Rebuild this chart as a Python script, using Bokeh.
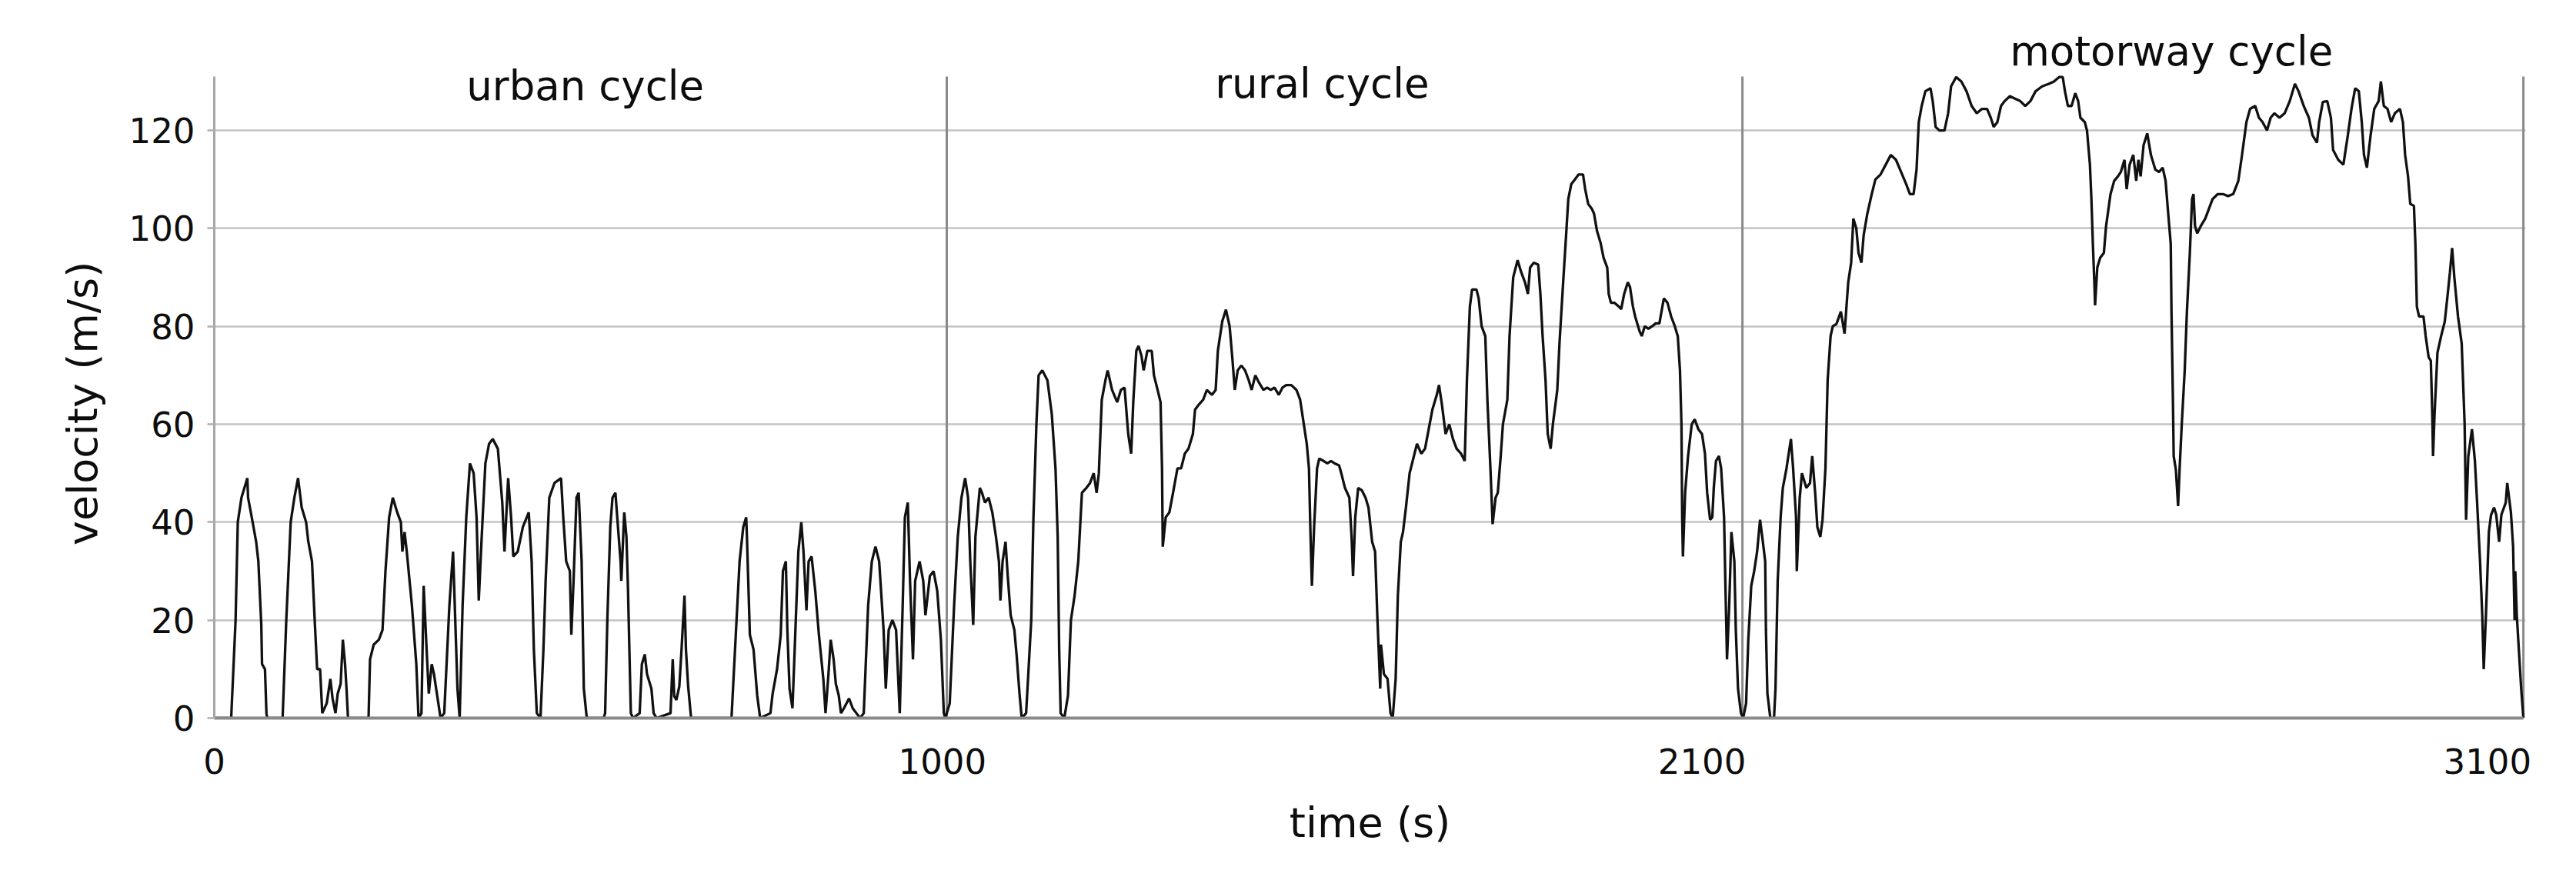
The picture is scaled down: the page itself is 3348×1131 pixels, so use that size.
from bokeh.plotting import figure
from bokeh.models import Range1d, FixedTicker, Label
from bokeh.embed import file_html
from bokeh.resources import INLINE

# ---------------- data (time in s, velocity as labelled) ----------------
urban_t = [0, 23, 29, 32, 37, 45, 46, 51, 57, 60, 64, 65, 69, 71, 72,
           93, 98, 104, 109, 114, 119, 125, 128, 133, 137, 140, 144, 147, 153, 158, 161, 165, 168, 172, 175, 178, 180, 182,
           210, 212, 217, 224, 229, 233, 238, 243, 249, 254, 256, 259, 262, 269, 275, 278, 282, 285, 289, 292, 296, 299, 303, 308, 313, 320, 325, 328, 331, 334,
           338, 343, 348, 353, 357, 360, 364, 369, 374, 379, 386, 392, 395, 400, 404, 407, 413, 420, 428, 432, 435, 439, 444, 448, 451, 456, 463, 472, 475, 479, 484, 486, 489, 493, 496, 500, 503, 507,
           530, 532, 535, 539, 542, 546, 549, 553, 554, 558, 561, 563, 567, 570,
           579, 582, 586, 589, 595, 598, 602,
           621, 624, 626, 629, 633, 636, 640, 642, 645, 649,
           704, 710, 715, 720, 724, 725, 729, 734, 739, 743,
           757, 760, 766, 771, 774, 778, 780, 783, 787, 790, 795, 799, 802, 806, 809, 813, 818, 823, 829, 832, 836, 839, 843, 846, 850, 853, 857, 864, 869, 874, 879,
           884, 890, 895, 900, 905, 911, 914, 918, 923, 928, 933, 937, 940, 944, 947, 951, 954, 960, 965, 968, 974, 979, 984, 989, 993, 995]
urban_v = [0, 0, 20, 40, 45, 49, 45, 41, 36, 32, 19, 11, 10, 1, 0,
           0, 20, 40, 45, 49, 43, 40, 36, 32, 19, 10, 10, 1, 3, 8, 4, 1, 5, 7, 16, 11, 6, 0,
           0, 12, 15, 16, 18, 30, 41, 45, 42, 40, 34, 38, 34, 23, 11, 0, 1, 27, 14, 5, 11, 9, 5, 0, 1, 23, 34, 20, 6, 0,
           23, 41, 52, 50, 41, 24, 37, 52, 56, 57, 55, 44, 34, 49, 41, 33, 34, 39, 42, 32, 14, 1, 0, 14, 28, 45, 48, 49, 41, 32, 30, 17, 28, 45, 46, 32, 6, 0,
           0, 1, 20, 39, 45, 46, 40, 32, 28, 42, 37, 27, 1, 0,
           1, 11, 13, 9, 6, 1, 0,
           1, 12, 4.5, 3.7, 6.5, 14, 25, 14, 6.5, 0,
           0, 17.5, 32, 39, 41, 37, 17, 14, 4.6, 0,
           1, 5, 10, 17, 30, 32, 18, 6, 2, 14, 34, 40, 34, 22, 32, 33, 26, 17, 8, 1, 9, 16, 12, 7, 4.6, 1, 2, 4, 2, 1, 0,
           1, 23, 32, 35, 32, 18, 6, 18, 20, 18, 1, 23, 41, 44, 28, 12, 28, 32, 28, 21, 29, 30, 26, 16, 1, 0]

rural_t = [1001, 1007, 1012, 1017, 1022, 1026, 1029, 1033, 1036, 1042, 1045, 1049, 1054, 1059, 1064, 1068, 1070, 1073, 1077, 1080, 1084, 1089, 1092, 1096, 1099,
           1105, 1108, 1112, 1115, 1119, 1122, 1127, 1134, 1140, 1145, 1148, 1150, 1152, 1157, 1162, 1166, 1171, 1176, 1181, 1187, 1192, 1197, 1201, 1204,
           1208, 1213, 1216, 1222, 1229, 1234, 1239, 1244, 1248, 1251, 1255, 1258, 1262, 1265, 1270, 1276, 1279, 1284, 1288, 1290, 1291, 1295, 1300, 1305,
           1311, 1316, 1321, 1326, 1332, 1335, 1340, 1346, 1351, 1358, 1363, 1366, 1372, 1377, 1382, 1386, 1389, 1393, 1398, 1403, 1408, 1412, 1417, 1422,
           1428, 1433, 1438, 1443, 1449, 1454, 1459, 1466, 1473, 1478, 1483, 1487, 1490, 1492, 1494, 1497, 1501, 1504, 1510, 1515, 1520, 1525, 1531, 1534,
           1539, 1545, 1548, 1550, 1553, 1557, 1562, 1567, 1571, 1576, 1580, 1583, 1587, 1588, 1592, 1597, 1601, 1604, 1608, 1611, 1615, 1618, 1622, 1627,
           1632, 1637, 1643, 1648, 1653, 1658, 1664, 1667, 1671, 1676, 1681, 1686, 1691, 1697, 1702, 1705, 1709, 1712, 1718, 1721, 1725, 1730, 1733, 1737,
           1740, 1744, 1747, 1751, 1754, 1760, 1763, 1768, 1774, 1779, 1784, 1788, 1791, 1796, 1802, 1805, 1808, 1812, 1815, 1819, 1822, 1828, 1831, 1836,
           1840, 1843, 1847, 1852, 1857, 1863, 1866, 1870, 1875, 1878, 1882, 1887, 1891, 1896, 1898, 1901, 1906, 1912, 1915, 1919, 1924, 1927, 1931, 1934,
           1940, 1943, 1947, 1952, 1957, 1962, 1967, 1973, 1978, 1983, 1988, 1992, 1995, 1997, 1998, 1999, 2002, 2006, 2011, 2015, 2020, 2025, 2029, 2032,
           2036, 2039, 2041, 2044, 2048, 2051, 2055, 2057, 2059, 2062, 2065, 2069, 2071, 2074, 2078, 2081]
rural_v = [3, 23, 37, 45, 49, 45, 32, 19, 37, 47, 46, 44, 45, 42, 37, 32, 24, 32, 36, 29, 21, 18, 13, 5, 0,
           1, 9, 20, 41, 60, 70, 71, 69, 62, 51, 37, 14, 1, 0, 4.6, 20, 25, 32, 46, 47, 48, 50, 46, 50,
           65, 69, 71, 67, 64.5, 67, 67.5, 58, 54, 65, 75, 76, 74, 71, 75, 75, 70, 67, 64.5, 51, 35, 41, 42, 46,
           51, 51, 54, 55, 58, 63, 64, 65, 67, 66, 67, 75, 81, 83.4, 80, 73, 67, 71, 72, 71, 69, 67, 70, 68.5,
           67, 67.5, 67, 67.5, 66, 67.5, 68, 68, 67, 65, 60, 56, 51, 38, 27, 39, 51, 53, 52.5, 52, 52.5, 52, 51.6, 50,
           47, 45, 37, 29, 41, 47, 46.5, 45, 43, 36, 34, 21, 6, 15, 9, 8, 1, 0, 8, 25, 36, 38, 43, 50,
           53, 56, 54, 55, 59, 63, 66, 68, 64, 58, 60, 57, 55, 54, 52.5, 69, 84, 87.5, 87.5, 85.7, 80, 78, 64.5, 51,
           39.6, 45, 46, 53.5, 60, 65, 78, 90, 93.5, 91, 89, 86.6, 92, 93, 92.6, 86.6, 78, 69, 58, 55, 60, 67, 76.5, 89,
           98.6, 106, 109, 110, 111, 111, 108, 105, 104, 103, 99.5, 97, 94, 92, 86.6, 84.8, 84.8, 84, 83.5, 86.6, 89, 88, 84, 82,
           79, 78, 80, 79.5, 80, 80.6, 80.6, 85.7, 84.8, 82, 80, 78, 71, 60, 41, 33, 46, 53.5, 60, 61, 59, 58, 54, 46,
           40.5, 41, 47, 52.5, 53.5, 51, 41, 26, 12, 23, 38, 32, 18, 6, 1, 0]

motorway_t = [2085, 2088, 2092, 2096, 2100, 2104, 2107, 2111, 2112, 2114, 2118, 2123, 2125, 2128, 2132, 2135, 2140, 2146, 2149, 2153, 2154, 2158,
              2161, 2167, 2172, 2175, 2179, 2182, 2186, 2189, 2193, 2196, 2200, 2203, 2208, 2214, 2219, 2224, 2228, 2231, 2235, 2238, 2242, 2245,
              2250, 2256, 2261, 2268, 2275, 2282, 2289, 2296, 2303, 2308, 2313, 2317, 2320, 2324, 2329, 2336, 2339, 2343, 2348, 2355, 2360, 2364,
              2371, 2378, 2385, 2392, 2399, 2406, 2413, 2418, 2422, 2427, 2432, 2437, 2444, 2451, 2458, 2465, 2472, 2479, 2488, 2497, 2504, 2511,
              2516, 2519, 2523, 2528, 2533, 2537, 2540, 2546, 2549, 2553, 2555, 2557, 2559, 2560, 2563, 2567, 2572, 2575, 2581, 2586, 2591, 2595,
              2600, 2603, 2607, 2612, 2616, 2619, 2622, 2626, 2631, 2636, 2642, 2647, 2652, 2656, 2659, 2663, 2664, 2666, 2667, 2670, 2673, 2675,
              2678, 2682, 2685, 2689, 2692, 2694, 2696, 2699, 2704, 2710, 2715, 2720, 2727, 2734, 2741, 2748, 2755, 2760, 2766, 2771, 2778, 2783,
              2788, 2794, 2799, 2804, 2811, 2818, 2825, 2832, 2837, 2844, 2851, 2856, 2862, 2865, 2870, 2876, 2881, 2884, 2891, 2898, 2904, 2909,
              2914, 2919, 2923, 2926, 2930, 2935, 2940, 2946, 2949, 2953, 2958, 2963, 2968, 2975, 2979, 2982, 2986, 2989, 2994, 2996, 2998, 3001,
              3007, 3010, 3014, 3017, 3019, 3020, 3022, 3026, 3031, 3036, 3040, 3043, 3046, 3049, 3054, 3059, 3063, 3065, 3068, 3073, 3077, 3080,
              3084, 3087, 3089, 3092, 3096, 3099, 3103, 3106, 3110, 3113, 3119, 3121, 3126, 3129, 3131, 3132, 3134, 3136, 3140, 3143]
motorway_v = [3, 16, 27, 30, 34, 40.5, 37, 32, 18, 5, 0, 0, 6, 28, 41, 47, 51, 57, 51, 41, 30, 45,
              50, 47, 48, 53.5, 46, 39, 37, 40.5, 51, 69, 78, 80, 80.5, 83, 78.5, 89, 93, 102, 100, 95, 93, 98.6,
              103, 107, 110, 111, 113, 115, 114, 111.5, 109, 107, 107, 112, 121.7, 125, 128, 128.6, 126, 120.7, 120, 120, 123.5, 129,
              130.9, 130, 128, 125, 123.5, 124.4, 124.4, 122.6, 120.7, 121.7, 125, 126, 127, 126.5, 126, 125, 126, 128, 129, 129.5, 130, 130.9,
              130.9, 128, 125, 125, 127.6, 126, 122.6, 121.7, 120, 113, 106, 96.8, 89, 84.3, 92, 94, 95, 100.5, 107, 109.7, 110.6, 111.5,
              114, 108, 113, 115, 109.7, 114, 110.6, 117, 119.4, 115, 112, 111.5, 112.4, 109.7, 104, 96.8, 83, 64.5, 53.5, 50.7, 43.3, 50.7,
              60, 71, 83, 95, 106, 107, 100.5, 99, 100.5, 102, 104, 106, 107, 107, 106.6, 107, 109.7, 115, 121.7, 124.4, 125, 122.6,
              121.7, 120, 122.6, 123.5, 122.6, 123.5, 126, 129.5, 128, 125, 122.6, 119, 117.5, 121.7, 125.8, 126, 122.6, 116, 114, 113, 119, 124.4,
              128.6, 128, 121.7, 115, 112.4, 119, 124.4, 126, 130, 125, 124.4, 121.7, 123.5, 124.4, 121.7, 115, 110.6, 105, 104.6, 96.8, 84, 82,
              82, 78, 73.7, 73, 61.8, 53.5, 61.8, 74.6, 78, 81, 86.6, 91, 96, 90, 82, 76.5, 60, 40.5, 53.5, 59, 52.5, 44,
              32, 21, 10, 21, 38, 41.5, 43, 41.5, 36, 41.5, 44, 48, 42, 35, 20, 30, 21, 16, 6, 0]

cycle_names = ["urban cycle", "rural cycle", "motorway cycle"]
cycle_bounds = [997, 2080, 3143]          # end of each cycle (s)
y_ticks = [0, 20, 40, 60, 80, 100, 120]
y_top = 131                               # top of the axis / separator lines
x_tick_labels = ["0", "1000", "2100", "3100"]
x_tick_at = [0, 991, 2025, 3094]          # where the labels sit on the time axis

x_title = "time (s)"
y_title = "velocity (m/s)"

# ---------------- figure ----------------
time_all = urban_t + rural_t + motorway_t
vel_all = urban_v + rural_v + motorway_v

X_END = 3146   # a little room so the last separator is not clipped
Y_END = 142    # room above the plot for the cycle names

p = figure(frame_width=3004, frame_height=904,
           min_border_left=278, min_border_right=50,
           min_border_top=29, min_border_bottom=182,
           x_range=Range1d(0, X_END), y_range=Range1d(0, Y_END),
           output_backend="svg", toolbar_location=None,
           background_fill_color="white", border_fill_color="white")
p.outline_line_color = None

# horizontal grid
p.xgrid.grid_line_color = None
p.ygrid.ticker = FixedTicker(ticks=y_ticks[1:])
p.ygrid.grid_line_color = "#c4c4c4"
p.ygrid.grid_line_width = 2.5
p.ygrid.bounds = (0, cycle_bounds[-1])

# cycle separators
p.segment(x0=cycle_bounds, y0=[0] * len(cycle_bounds), x1=cycle_bounds, y1=[y_top] * len(cycle_bounds),
          line_color="#8a8a8a", line_width=3)

p.line(time_all, vel_all, line_color="#111111", line_width=3.3)

TXT = "#0d0d0d"

# y axis
p.yaxis.ticker = FixedTicker(ticks=y_ticks)
p.yaxis.bounds = (0, y_top)
p.yaxis.axis_line_color = "#a6a6a6"
p.yaxis.axis_line_width = 3
p.yaxis.major_tick_line_color = "#b0b0b0"
p.yaxis.major_tick_line_width = 2.5
p.yaxis.major_tick_out = 9
p.yaxis.major_tick_in = 0
p.yaxis.minor_tick_line_color = None
p.yaxis.major_label_standoff = 16
p.yaxis.major_label_text_font = "DejaVu Sans"
p.yaxis.major_label_text_font_size = "45px"
p.yaxis.major_label_text_color = TXT
# non-breaking padding keeps the centred title level with the plotted area
p.yaxis.axis_label = y_title + "\u00a0" * 5
p.yaxis.axis_label_text_font = "DejaVu Sans"
p.yaxis.axis_label_text_font_size = "54px"
p.yaxis.axis_label_text_font_style = "normal"
p.yaxis.axis_label_text_color = TXT
p.yaxis.axis_label_standoff = 26

# x axis
p.xaxis.ticker = FixedTicker(ticks=x_tick_at)
p.xaxis.bounds = (0, cycle_bounds[-1])
p.xaxis.major_label_overrides = {t: s for t, s in zip(x_tick_at, x_tick_labels)}
p.xaxis.axis_line_color = "#8a8a8a"
p.xaxis.axis_line_width = 4
p.xaxis.major_tick_line_color = None
p.xaxis.minor_tick_line_color = None
p.xaxis.major_label_standoff = 33
p.xaxis.major_label_text_font = "DejaVu Sans"
p.xaxis.major_label_text_font_size = "45px"
p.xaxis.major_label_text_color = TXT
p.xaxis.axis_label = x_title
p.xaxis.axis_label_text_font = "DejaVu Sans"
p.xaxis.axis_label_text_font_size = "54px"
p.xaxis.axis_label_text_font_style = "normal"
p.xaxis.axis_label_text_color = TXT
p.xaxis.axis_label_standoff = 29

# cycle names
label_x = [505, 1508, 2664]
label_y = [129.1, 129.6, 136.2]
for name, lx, ly in zip(cycle_names, label_x, label_y):
    p.add_layout(Label(x=lx, y=ly, text=name, text_align="center", text_baseline="middle",
                       text_font="DejaVu Sans", text_font_size="53px", text_color=TXT))

open("out.html", "w").write(file_html(p, INLINE))
